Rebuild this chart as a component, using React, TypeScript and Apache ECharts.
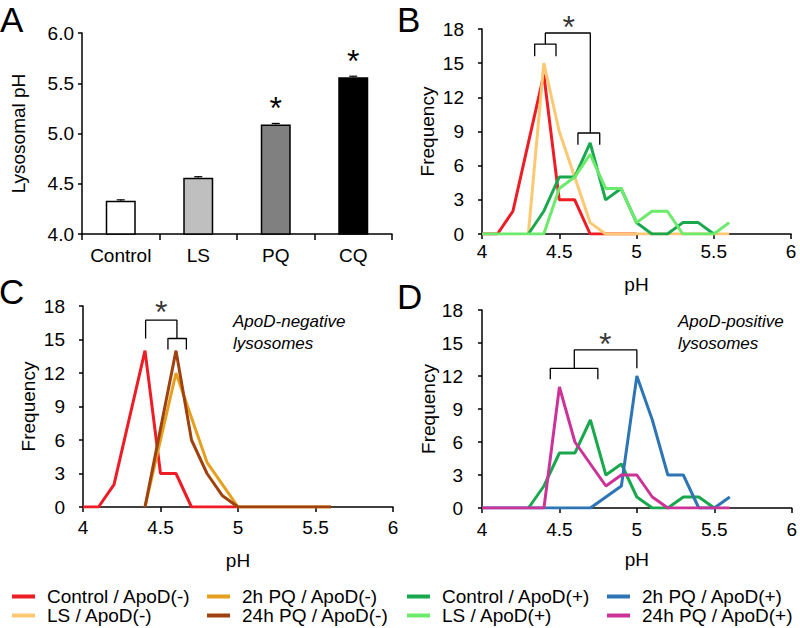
import React, { useEffect, useRef } from "react";
import * as echarts from "echarts";

// ---------- Panel A data ----------
const BAR_CATEGORIES = ["Control", "LS", "PQ", "CQ"];
const BAR_PH = [4.33, 4.56, 5.09, 5.56];
const BAR_ERR = [0.01, 0.01, 0.01, 0.01];
const BAR_SIGNIFICANT = [false, false, true, true];
const BAR_COLORS = ["#FFFFFF", "#BFBFBF", "#808080", "#000000"];

// ---------- Histogram bins (pH) ----------
const PH_BINS = [4.0, 4.1, 4.2, 4.3, 4.4, 4.5, 4.6, 4.7, 4.8, 4.9, 5.0, 5.1, 5.2, 5.3, 5.4, 5.5, 5.6];

// Frequencies per bin (null = not plotted)
const CONTROL_NEG = [0, 0, 2, 8, 14, 3, 3, 0, 0, 0, 0, null, null, null, null, null, null];
const LS_NEG = [null, null, null, 0, 15, 9, 5, 1, 0, 0, 0, 0, 0, 0, 0, 0, 0];
const PQ2_NEG = [null, null, null, null, 0, 6, 12, 8, 4, 2, 0, 0, 0, 0, 0, 0, 0];
const PQ24_NEG = [null, null, null, null, 0, 7, 14, 6, 3, 1, 0, 0, 0, 0, 0, 0, 0];
const CONTROL_POS = [null, null, null, 0, 2, 5, 5, 8, 3, 4, 1, 0, 0, 1, 1, 0, null];
const LS_POS = [0, 0, 0, 0, 0, 4, 5, 7, 4, 4, 1, 2, 2, 0, 0, 0, 1];
const PQ2_POS = [0, 0, 0, 0, 0, 0, 0, 0, 1, 2, 12, 8, 3, 3, 0, 0, 1];
const PQ24_POS = [0, 0, 0, 0, 0, 11, 6, 4, 2, 3, 3, 1, 0, 0, 0, 0, 0];

const NAMES = {
  ctrlNeg: "Control / ApoD(-)",
  lsNeg: "LS / ApoD(-)",
  pq2Neg: "2h PQ / ApoD(-)",
  pq24Neg: "24h PQ / ApoD(-)",
  ctrlPos: "Control / ApoD(+)",
  lsPos: "LS / ApoD(+)",
  pq2Pos: "2h PQ / ApoD(+)",
  pq24Pos: "24h PQ / ApoD(+)",
};

const COLORS: Record<string, string> = {
  [NAMES.ctrlNeg]: "#EE1C25",
  [NAMES.lsNeg]: "#FDC872",
  [NAMES.pq2Neg]: "#E6A020",
  [NAMES.pq24Neg]: "#A0420F",
  [NAMES.ctrlPos]: "#19A84E",
  [NAMES.lsPos]: "#6BEA6B",
  [NAMES.pq2Pos]: "#2E75B6",
  [NAMES.pq24Pos]: "#CC3399",
};

// Significance brackets (data coordinates of each panel)
const BRACKETS_B = [
  [[4.341, 15.6], [4.341, 16.68], [4.479, 16.68], [4.479, 15.6]],
  [[4.41, 16.68], [4.41, 17.65], [4.701, 17.65], [4.701, 8.87]],
  [[4.621, 7.84], [4.621, 8.87], [4.762, 8.87], [4.762, 7.84]],
];
const STAR_B = [4.561, 18.8];
const BRACKETS_C = [
  [[4.404, 15.09], [4.404, 16.73], [4.606, 16.73], [4.606, 15.09]],
  [[4.548, 14.1], [4.548, 15.09], [4.667, 15.09], [4.667, 14.1]],
];
const STAR_C = [4.505, 18.07];
const BRACKETS_D = [
  [[4.596, 12.7], [4.596, 14.37], [5.0, 14.37], [5.0, 12.7]],
  [[4.441, 11.7], [4.441, 12.7], [4.748, 12.7], [4.748, 11.7]],
];
const STAR_D = [4.796, 15.58];

const FONT = "'Liberation Sans', Arial, Helvetica, sans-serif";

function toPairs(values: (number | null)[]) {
  const out: number[][] = [];
  values.forEach((v, i) => {
    if (v !== null) out.push([PH_BINS[i], v]);
  });
  return out;
}

function lineSeries(name: string, values: (number | null)[], idx: number) {
  return {
    type: "line",
    name,
    xAxisIndex: idx,
    yAxisIndex: idx,
    data: toPairs(values),
    symbol: "none",
    lineStyle: { color: COLORS[name], width: 3 },
    itemStyle: { color: COLORS[name] },
    z: 3,
  };
}

function bracketSeries(points: number[][], idx: number) {
  return {
    type: "line",
    xAxisIndex: idx,
    yAxisIndex: idx,
    data: points,
    symbol: "none",
    silent: true,
    clip: false,
    lineStyle: { color: "#000", width: 1.3 },
    z: 4,
  };
}

function starSeries(pos: number[], idx: number) {
  return {
    type: "scatter",
    xAxisIndex: idx,
    yAxisIndex: idx,
    data: [pos],
    symbolSize: 1,
    clip: false,
    silent: true,
    itemStyle: { color: "rgba(0,0,0,0)" },
    label: {
      show: true,
      position: "inside",
      formatter: "*",
      fontSize: 32,
      color: "#000",
      fontFamily: FONT,
      offset: [0, 7],
    },
    z: 5,
  };
}

const axisLineStyle = { color: "#000", width: 1.5 };

function phXAxis(idx: number, nameGap: number, margin: number) {
  return {
    gridIndex: idx,
    type: "value",
    min: 4,
    max: 6,
    interval: 0.5,
    name: "pH",
    nameLocation: "middle",
    nameGap,
    nameTextStyle: { fontSize: 19, color: "#000", fontFamily: FONT },
    axisLine: { show: true, onZero: false, lineStyle: axisLineStyle },
    axisTick: { show: true, length: 5, lineStyle: axisLineStyle },
    axisLabel: {
      fontSize: 19,
      color: "#000",
      margin,
      fontFamily: FONT,
      formatter: (v: number) => String(v),
    },
    splitLine: { show: false },
  };
}

function freqYAxis(idx: number, nameGap: number, margin: number) {
  return {
    gridIndex: idx,
    type: "value",
    min: 0,
    max: 18,
    interval: 3,
    name: "Frequency",
    nameLocation: "middle",
    nameGap,
    nameTextStyle: { fontSize: 19, color: "#000", fontFamily: FONT },
    axisLine: { show: true, lineStyle: axisLineStyle },
    axisTick: { show: true, length: 4, lineStyle: axisLineStyle },
    axisLabel: { fontSize: 19, color: "#000", margin, fontFamily: FONT },
    splitLine: { show: false },
  };
}

function legendColumn(names: string[], left: number) {
  return {
    orient: "vertical",
    left,
    top: 587,
    padding: 0,
    itemGap: 0,
    itemWidth: 23,
    itemHeight: 4,
    icon: "rect",
    selectedMode: false,
    data: names,
    textStyle: {
      fontSize: 19,
      color: "#000",
      fontFamily: FONT,
      lineHeight: 17,
      padding: [0, 0, 0, 7],
    },
  };
}

function panelText(text: string, x: number, y: number, size: number, italic = false) {
  return {
    type: "text",
    silent: true,
    x,
    y,
    style: {
      text,
      fontSize: size,
      fontStyle: italic ? "italic" : "normal",
      fontFamily: FONT,
      fill: "#000",
      verticalAlign: "middle",
    },
  };
}

export default function App() {
  const ref = useRef<HTMLDivElement>(null);

  useEffect(() => {
    if (!ref.current) return;
    const chart = echarts.init(ref.current, undefined, { renderer: "svg" });

    const option: any = {
      animation: false,
      backgroundColor: "#fff",
      textStyle: { fontFamily: FONT },
      grid: [
        { left: 82, top: 33, width: 310, height: 201 },
        { left: 482, top: 29, width: 309, height: 205 },
        { left: 83, top: 306, width: 310, height: 201 },
        { left: 482, top: 310, width: 311, height: 198 },
      ],
      xAxis: [
        {
          gridIndex: 0,
          type: "category",
          data: BAR_CATEGORIES,
          axisLine: { show: true, lineStyle: axisLineStyle },
          axisTick: { show: true, length: 6, interval: 0, alignWithLabel: false, lineStyle: axisLineStyle },
          axisLabel: { fontSize: 19, color: "#000", margin: 12, fontFamily: FONT, interval: 0, hideOverlap: false },
        },
        phXAxis(1, 41, 8),
        phXAxis(2, 44, 11),
        phXAxis(3, 42, 12),
      ],
      yAxis: [
        {
          gridIndex: 0,
          type: "value",
          min: 4,
          max: 6,
          interval: 0.5,
          name: "Lysosomal pH",
          nameLocation: "middle",
          nameGap: 54,
          nameTextStyle: { fontSize: 19, color: "#000", fontFamily: FONT },
          axisLine: { show: true, lineStyle: axisLineStyle },
          axisTick: { show: true, length: 4, lineStyle: axisLineStyle },
          axisLabel: {
            fontSize: 19,
            color: "#000",
            margin: 8,
            fontFamily: FONT,
            formatter: (v: number) => v.toFixed(1),
          },
          splitLine: { show: false },
        },
        freqYAxis(1, 45, 18),
        freqYAxis(2, 45, 18),
        freqYAxis(3, 43, 19),
      ],
      legend: [
        legendColumn([NAMES.ctrlNeg, NAMES.lsNeg], 12),
        legendColumn([NAMES.pq2Neg, NAMES.pq24Neg], 207),
        legendColumn([NAMES.ctrlPos, NAMES.lsPos], 407),
        legendColumn([NAMES.pq2Pos, NAMES.pq24Pos], 607),
      ],
      graphic: [
        panelText("A", 0, 19, 35),
        panelText("B", 397, 19, 35),
        panelText("C", -1, 291, 35),
        panelText("D", 397, 296, 35),
        panelText("ApoD-negative", 233, 321, 17, true),
        panelText("lysosomes", 233, 343, 17, true),
        panelText("ApoD-positive", 678, 321, 17, true),
        panelText("lysosomes", 678, 343, 17, true),
      ],
      series: [
        // Panel A
        {
          type: "bar",
          name: "Lysosomal pH",
          xAxisIndex: 0,
          yAxisIndex: 0,
          barWidth: 30,
          data: BAR_PH.map((v, i) => ({
            value: v,
            itemStyle: { color: BAR_COLORS[i] },
            label: { show: BAR_SIGNIFICANT[i] },
          })),
          itemStyle: { borderColor: "#000", borderWidth: 1.5 },
          label: {
            show: false,
            position: "top",
            distance: 0,
            formatter: "*",
            fontSize: 32,
            color: "#000",
            fontFamily: FONT,
          },
        },
        {
          type: "custom",
          xAxisIndex: 0,
          yAxisIndex: 0,
          silent: true,
          data: BAR_PH.map((v, i) => [i, v, BAR_ERR[i]]),
          encode: { x: 0, y: 1 },
          renderItem: (params: any, api: any) => {
            const i = api.value(0);
            const v = api.value(1);
            const e = api.value(2);
            const top = api.coord([i, v + e]);
            const base = api.coord([i, v]);
            const hw = 4;
            return {
              type: "group",
              children: [
                { type: "line", shape: { x1: top[0], y1: top[1], x2: base[0], y2: base[1] }, style: { stroke: "#000", lineWidth: 1.2 } },
                { type: "line", shape: { x1: top[0] - hw, y1: top[1], x2: top[0] + hw, y2: top[1] }, style: { stroke: "#000", lineWidth: 1.2 } },
              ],
            };
          },
          z: 4,
        },
        // Panel B
        lineSeries(NAMES.ctrlNeg, CONTROL_NEG, 1),
        lineSeries(NAMES.lsNeg, LS_NEG, 1),
        lineSeries(NAMES.ctrlPos, CONTROL_POS, 1),
        lineSeries(NAMES.lsPos, LS_POS, 1),
        ...BRACKETS_B.map((b) => bracketSeries(b, 1)),
        starSeries(STAR_B, 1),
        // Panel C
        lineSeries(NAMES.ctrlNeg, CONTROL_NEG, 2),
        lineSeries(NAMES.pq2Neg, PQ2_NEG, 2),
        lineSeries(NAMES.pq24Neg, PQ24_NEG, 2),
        ...BRACKETS_C.map((b) => bracketSeries(b, 2)),
        starSeries(STAR_C, 2),
        // Panel D
        lineSeries(NAMES.ctrlPos, CONTROL_POS, 3),
        lineSeries(NAMES.pq2Pos, PQ2_POS, 3),
        lineSeries(NAMES.pq24Pos, PQ24_POS, 3),
        ...BRACKETS_D.map((b) => bracketSeries(b, 3)),
        starSeries(STAR_D, 3),
      ],
    };

    chart.setOption(option);
    return () => chart.dispose();
  }, []);

  return (
    <div
      ref={ref}
      style={{ position: "absolute", left: 0, top: 0, width: 800, height: 628, background: "#fff" }}
    />
  );
}
